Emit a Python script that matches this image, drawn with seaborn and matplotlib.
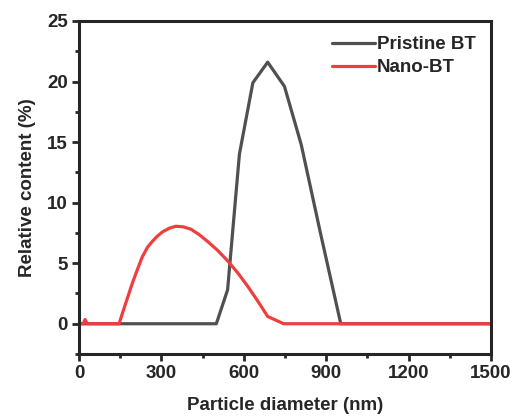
import matplotlib
matplotlib.use("Agg")
import matplotlib.pyplot as plt
import seaborn as sns
import pandas as pd
from matplotlib.ticker import MultipleLocator

# Data
pristine_x = [0, 150, 300, 500, 541, 584, 633, 687, 748, 809, 878, 953, 1100, 1300, 1500]
pristine_y = [0, 0, 0, 0, 2.8, 14.0, 19.9, 21.6, 19.6, 14.8, 7.6, 0, 0, 0, 0]

nano_x = [0, 15, 22, 30, 60, 146, 160, 176, 195, 213, 230, 249, 267, 286, 305, 330,
          353, 380, 408, 438, 468, 505, 541, 578, 614, 650, 687, 745, 900, 1200, 1500]
nano_y = [0, 0, 0.35, 0, 0, 0, 1.0, 2.1, 3.4, 4.5, 5.5, 6.3, 6.8, 7.25, 7.6, 7.9,
          8.05, 8.0, 7.8, 7.35, 6.8, 6.05, 5.2, 4.2, 3.1, 1.9, 0.6, 0, 0, 0, 0]

df = pd.concat([
    pd.DataFrame({"x": pristine_x, "y": pristine_y, "series": "Pristine BT"}),
    pd.DataFrame({"x": nano_x, "y": nano_y, "series": "Nano-BT"}),
])

sns.set_style("ticks")
plt.rcParams['font.family'] = ['Liberation Sans', 'DejaVu Sans']
plt.rcParams['font.weight'] = 'bold'

FS = 13.5
fig = plt.figure(figsize=(5.15, 4.19), dpi=100)
ax = fig.add_axes([0.1534, 0.1551, 0.8, 0.7948])

sns.lineplot(data=df, x="x", y="y", hue="series", sort=False,
             palette={"Pristine BT": "#505050", "Nano-BT": "#EF3E3E"},
             linewidth=2.3, ax=ax, estimator=None)

ax.set_xlim(0, 1500)
ax.set_ylim(-2.5, 25)
ax.xaxis.set_major_locator(MultipleLocator(300))
ax.xaxis.set_minor_locator(MultipleLocator(150))
ax.yaxis.set_major_locator(MultipleLocator(5))
ax.yaxis.set_minor_locator(MultipleLocator(2.5))

for s in ax.spines.values():
    s.set_linewidth(2.2)
    s.set_visible(True)
ax.tick_params(which='major', direction='out', length=5, width=2, labelsize=FS, pad=3)
ax.tick_params(which='minor', direction='out', length=3, width=2)
for lab in ax.get_xticklabels() + ax.get_yticklabels():
    lab.set_fontweight('bold')

ax.set_xlabel("Particle diameter (nm)", fontsize=FS, fontweight='bold', labelpad=11)
ax.set_ylabel("Relative content (%)", fontsize=FS, fontweight='bold', labelpad=8)

leg = ax.legend(loc='upper right', frameon=False,
                handlelength=2.3, handletextpad=0.1, labelspacing=0.32,
                borderaxespad=0.4, prop={'weight': 'bold', 'size': FS})

fig.savefig("out.png", dpi=100)
